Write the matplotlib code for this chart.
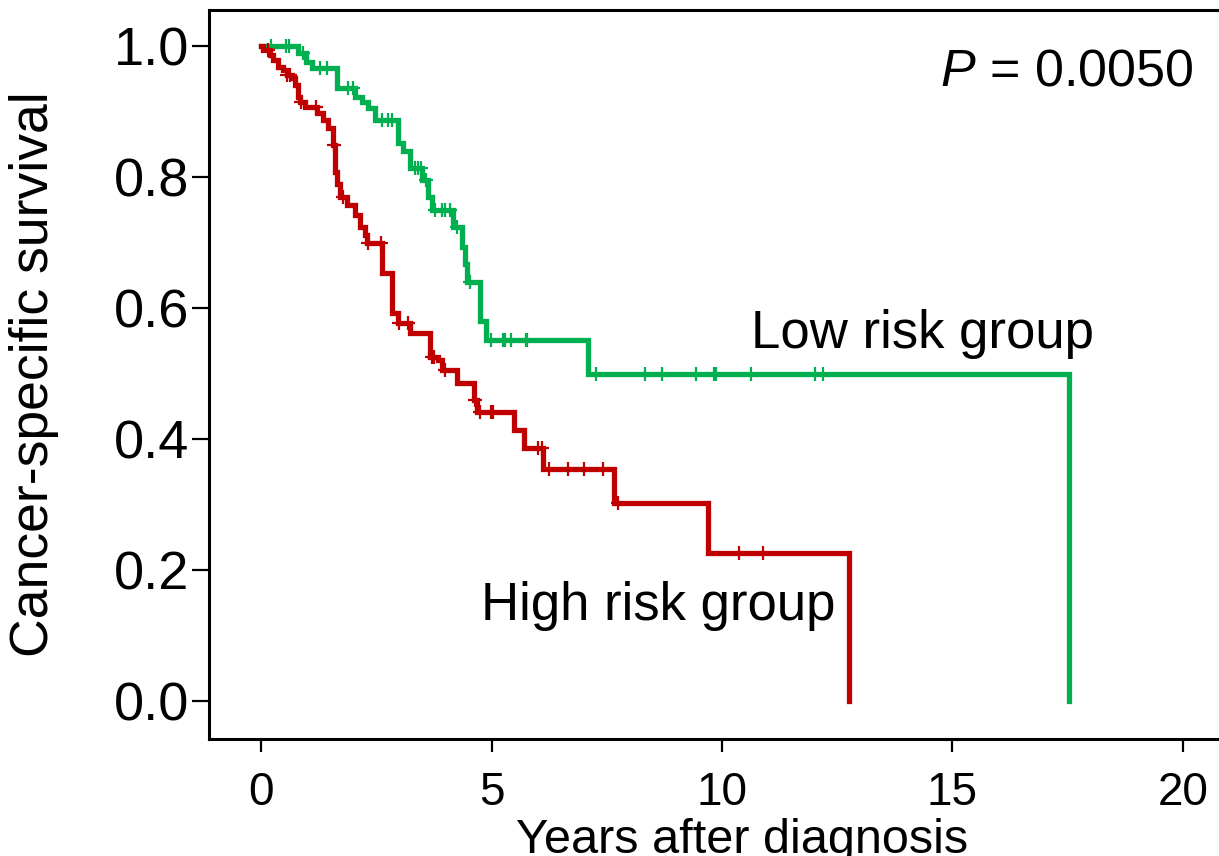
import numpy as np
import matplotlib
matplotlib.use("Agg")
import matplotlib.pyplot as plt

# Kaplan-Meier step data: event times (years) and survival after each event
low_times = [0, 0.80, 0.98, 1.11, 1.65, 2.04, 2.20, 2.33, 2.48, 2.98, 3.09, 3.24,
             3.50, 3.63, 3.70, 4.17, 4.37, 4.42, 4.46, 4.76, 4.87, 7.09, 17.52]
low_surv = [1.0, 0.989, 0.976, 0.966, 0.936, 0.922, 0.915, 0.905, 0.887, 0.852, 0.840, 0.814,
            0.795, 0.770, 0.750, 0.724, 0.693, 0.667, 0.640, 0.580, 0.551, 0.500, 0.0]
low_censor = [0.22, 0.54, 0.61, 0.92, 1.28, 1.43, 1.89, 2.00, 2.63, 2.76, 2.85,
              3.35, 3.41, 3.46, 3.57, 3.78, 3.93, 4.00, 4.11, 4.26, 4.54,
              4.98, 5.24, 5.30, 5.43, 5.74, 5.78,
              7.26, 8.33, 8.70, 9.43, 9.83, 9.87, 10.63, 12.02, 12.20]

high_times = [0, 0.04, 0.20, 0.26, 0.37, 0.48, 0.57, 0.67, 0.74, 0.80, 0.85, 0.96,
              1.22, 1.35, 1.46, 1.57, 1.61, 1.65, 1.72, 1.87, 2.04, 2.15, 2.26, 2.30,
              2.63, 2.85, 2.98, 3.24, 3.67, 3.83, 3.93, 4.26, 4.62, 4.68, 5.48, 5.70,
              6.11, 7.65, 9.70, 12.76]
high_surv = [1.0, 0.994, 0.986, 0.978, 0.968, 0.963, 0.956, 0.951, 0.940, 0.922, 0.914, 0.907,
             0.898, 0.887, 0.875, 0.849, 0.808, 0.790, 0.770, 0.757, 0.742, 0.724, 0.711, 0.699,
             0.653, 0.592, 0.577, 0.562, 0.525, 0.520, 0.505, 0.485, 0.460, 0.441, 0.414, 0.386,
             0.354, 0.302, 0.226, 0.0]
high_censor = [0.15, 0.57, 0.63, 0.86, 1.20, 1.59, 1.78, 2.33, 2.60, 3.00, 3.19,
               3.70, 3.76, 4.00, 4.64, 4.76, 4.98, 5.04, 6.00, 6.09,
               6.24, 6.65, 7.00, 7.41, 7.74, 10.37, 10.89]

x_ticks = [0, 5, 10, 15, 20]
y_ticks = [0.0, 0.2, 0.4, 0.6, 0.8, 1.0]
y_tick_labels = ["0.0", "0.2", "0.4", "0.6", "0.8", "1.0"]

GREEN = "#00B050"
RED = "#C00000"

plt.rcParams["font.family"] = ["Liberation Sans", "DejaVu Sans"]
plt.rcParams["mathtext.fontset"] = "custom"
plt.rcParams["mathtext.rm"] = "Liberation Sans"
plt.rcParams["mathtext.it"] = "Liberation Sans:italic"

fig = plt.figure(figsize=(12.19, 8.56), dpi=100)
# axes run past the right edge of the canvas
ax = fig.add_axes([209 / 1219, 117 / 856, 1066 / 1219, 729 / 856])


def censor_levels(times, surv, cens):
    idx = np.searchsorted(np.asarray(times), np.asarray(cens), side="right") - 1
    return np.asarray(surv)[idx]


for times, surv, cens, col in [(low_times, low_surv, low_censor, GREEN),
                               (high_times, high_surv, high_censor, RED)]:
    ax.step(times, surv, where="post", color=col, lw=3.8, solid_joinstyle="miter")
    ax.plot(cens, censor_levels(times, surv, cens), "+", color=col, ms=10, mew=1.6)

ax.set_xlim(-1.13, 22.0)
ax.set_ylim(-0.058, 1.055)
ax.set_xticks(x_ticks)
ax.set_yticks(y_ticks)
ax.set_yticklabels(y_tick_labels)

for s in ax.spines.values():
    s.set_linewidth(2.2)
ax.tick_params(axis="x", length=9, width=1.6, labelsize=33, pad=14)
ax.tick_params(axis="y", length=12, width=1.6, labelsize=39, pad=2)

ax.set_xlabel("Years after diagnosis", fontsize=35, labelpad=2)
ax.set_ylabel("Cancer-specific survival", fontsize=38.5)
ax.yaxis.set_label_coords(-0.141, 0.5)

ax.text(10.63, 0.56, "Low risk group", fontsize=38, ha="left", va="center")
ax.text(4.78, 0.145, "High risk group", fontsize=38, ha="left", va="center")
ax.text(20.24, 0.96, r"$\it{P}$ = 0.0050", fontsize=37.5, ha="right", va="center")

fig.savefig("out.png", dpi=100)
